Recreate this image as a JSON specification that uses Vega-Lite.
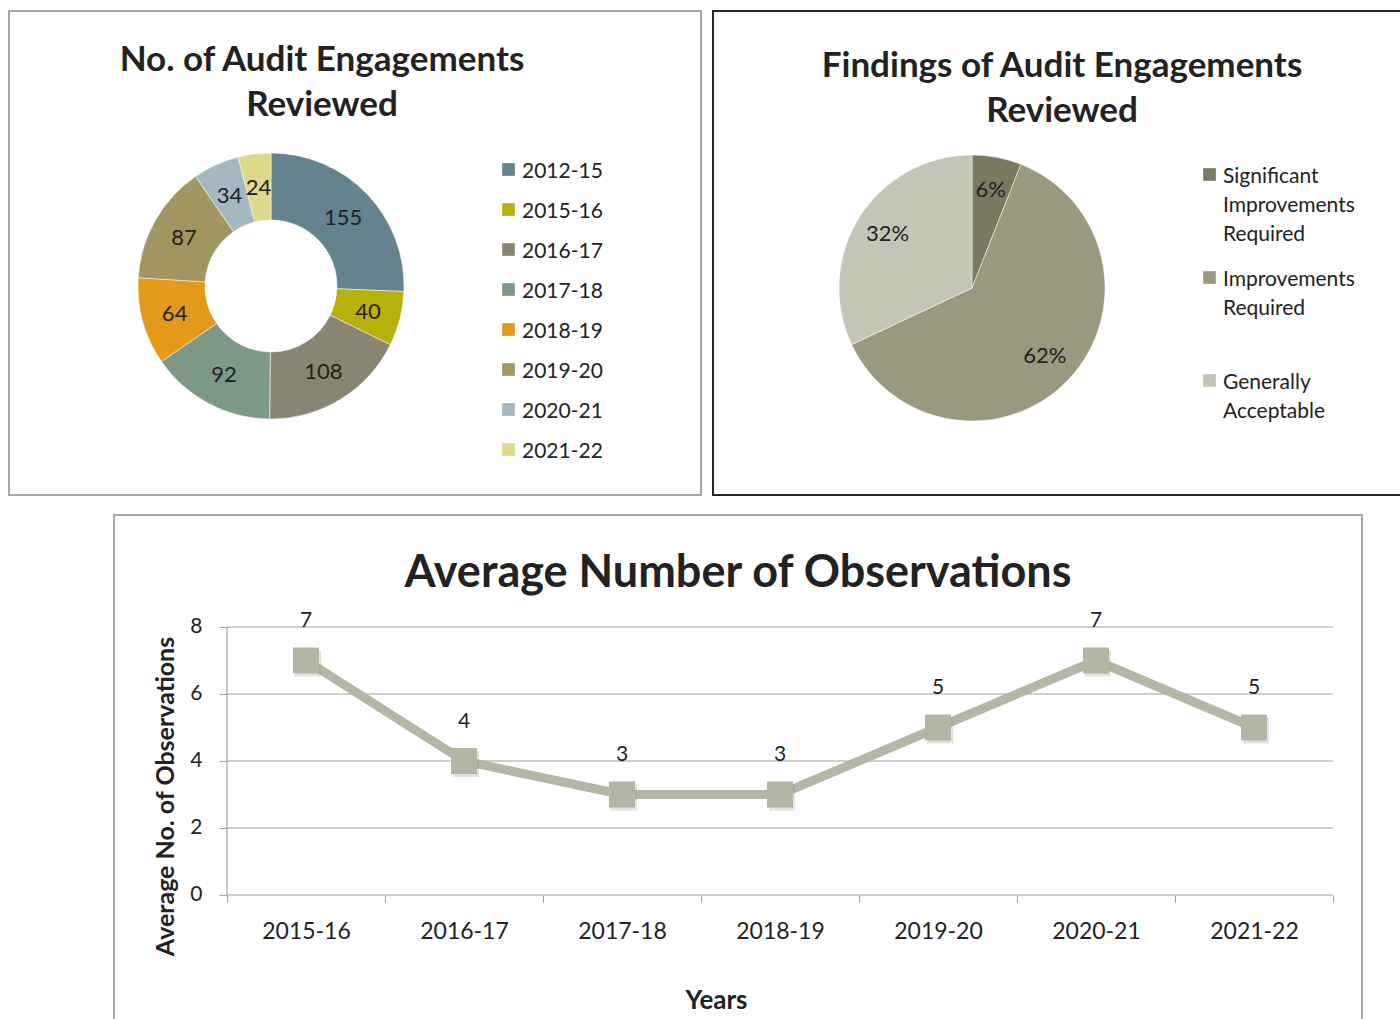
{
  "$schema": "https://vega.github.io/schema/vega-lite/v6.json",
  "padding": {"left": 8, "top": 10, "right": 0, "bottom": 0},
  "background": "white",
  "config": {
    "font": "Lato",
    "view": {"stroke": null},
    "legend": {"titleFontSize": 0},
    "style": {"guide-label": {"lineHeight": 29, "dy": -9}}
  },
  "datasets": {
    "engagements": [
      {"period": "2012-15", "count": 155, "rank": 1},
      {"period": "2015-16", "count": 40, "rank": 2},
      {"period": "2016-17", "count": 108, "rank": 3},
      {"period": "2017-18", "count": 92, "rank": 4},
      {"period": "2018-19", "count": 64, "rank": 5},
      {"period": "2019-20", "count": 87, "rank": 6},
      {"period": "2020-21", "count": 34, "rank": 7},
      {"period": "2021-22", "count": 24, "rank": 8}
    ],
    "findings": [
      {"finding": "Significant Improvements Required", "share": 0.06, "rank": 1},
      {"finding": "Improvements Required", "share": 0.62, "rank": 2},
      {"finding": "Generally Acceptable", "share": 0.32, "rank": 3}
    ],
    "observations": [
      {"year": "2015-16", "avg": 7},
      {"year": "2016-17", "avg": 4},
      {"year": "2017-18", "avg": 3},
      {"year": "2018-19", "avg": 3},
      {"year": "2019-20", "avg": 5},
      {"year": "2020-21", "avg": 7},
      {"year": "2021-22", "avg": 5}
    ],
    "grid": [{"v": 0}, {"v": 2}, {"v": 4}, {"v": 6}, {"v": 8}]
  },
  "center": true,
  "spacing": 18,
  "resolve": {"scale": {"color": "independent", "theta": "independent", "x": "independent", "y": "independent"}, "legend": {"color": "independent"}},
  "vconcat": [
    {
      "spacing": 10,
      "resolve": {"scale": {"color": "independent", "theta": "independent"}, "legend": {"color": "independent"}},
      "hconcat": [
        {
          "width": 692,
          "height": 484,
          "view": {"stroke": "#A6A6A6", "strokeWidth": 2},
          "title": {"text": ["No. of Audit Engagements", "Reviewed"], "frame": "group", "anchor": "middle", "dx": -33, "offset": -112, "baseline": "top", "fontSize": 35, "fontWeight": "bold", "lineHeight": 45, "color": "#222222", "font": "Lato"},
          "data": {"name": "engagements"},
          "encoding": {
            "theta": {"field": "count", "type": "quantitative", "stack": true},
            "order": {"field": "rank", "type": "quantitative"},
            "color": {
              "field": "period", "type": "nominal",
              "scale": {"domain": ["2012-15", "2015-16", "2016-17", "2017-18", "2018-19", "2019-20", "2020-21", "2021-22"],
                        "range": ["#64838F", "#B8B00C", "#888672", "#7D9885", "#E39A1A", "#A19660", "#A3B8C0", "#DED88A"]},
              "legend": {"orient": "none", "legendX": 489, "legendY": 148, "title": null, "symbolType": "square", "symbolSize": 160, "symbolStrokeWidth": 0, "labelFontSize": 21, "labelColor": "#222222", "labelFont": "Lato", "labelBaseline": "top", "rowPadding": 17, "labelOffset": 3}
            }
          },
          "layer": [
            {"mark": {"type": "arc", "x": 262, "y": 275, "outerRadius": 133, "innerRadius": 66, "stroke": "white", "strokeWidth": 0.5}},
            {"mark": {"type": "text", "x": 262, "y": 276, "radius": 100, "fontSize": 22, "font": "Lato"},
             "encoding": {"text": {"field": "count", "type": "quantitative"}, "color": {"value": "#222222"}}}
          ]
        },
        {
          "width": 754,
          "height": 484,
          "view": {"stroke": "#262626", "strokeWidth": 2},
          "title": {"text": ["Findings of Audit Engagements", "Reviewed"], "frame": "group", "anchor": "middle", "dx": -28, "offset": -118, "baseline": "top", "fontSize": 35, "fontWeight": "bold", "lineHeight": 45, "color": "#222222", "font": "Lato"},
          "data": {"name": "findings"},
          "encoding": {
            "theta": {"field": "share", "type": "quantitative", "stack": true},
            "order": {"field": "rank", "type": "quantitative"},
            "color": {
              "field": "finding", "type": "nominal", "sort": ["Significant Improvements Required", "Improvements Required", "Generally Acceptable"],
              "scale": {"domain": ["Significant Improvements Required", "Improvements Required", "Generally Acceptable"],
                        "range": ["#7A7A63", "#9A987E", "#C4C4B7"]},
              "legend": {"orient": "none", "legendX": 486, "legendY": 153, "title": null, "symbolType": "square", "symbolSize": 160, "symbolStrokeWidth": 0, "labelFontSize": 21, "labelColor": "#222222", "labelFont": "Lato", "rowPadding": 22, "labelOffset": 3, "labelBaseline": "top", "gridAlign": "all", "labelExpr": "split(datum.label, ' ')"}
            }
          },
          "layer": [
            {"mark": {"type": "arc", "x": 259, "y": 277, "outerRadius": 133, "stroke": "white", "strokeWidth": 0.5}},
            {"mark": {"type": "text", "x": 259, "y": 277, "radius": 100, "fontSize": 22, "font": "Lato"},
             "encoding": {"text": {"field": "share", "type": "quantitative", "format": ".0%"}, "color": {"value": "#222222"}}}
          ]
        }
      ]
    },
    {
      "width": 1248,
      "height": 510,
      "view": {"stroke": "#A6A6A6", "strokeWidth": 2},
      "title": {"text": "Average Number of Observations", "frame": "group", "anchor": "middle", "offset": -81, "baseline": "top", "fontSize": 45, "fontWeight": "bold", "color": "#222222", "font": "Lato"},
      "data": {"name": "observations"},
      "encoding": {
        "x": {
          "field": "year", "type": "ordinal", "bandPosition": 0.5,
          "scale": {"type": "band", "domain": ["2015-16", "2016-17", "2017-18", "2018-19", "2019-20", "2020-21", "2021-22"], "paddingInner": 0, "paddingOuter": 0.4494, "align": 0.7958},
          "axis": {"title": "Years", "offset": -130, "domain": false, "grid": false, "tickBand": "extent", "tickSize": 7, "tickColor": "#A0A0A0", "labelAngle": 0, "labelFontSize": 23, "labelColor": "#222222", "labelPadding": 27, "labelFont": "Lato", "titleFont": "Lato", "titleFontSize": 26, "titleFontWeight": "bold", "titleColor": "#222222", "titleX": 602, "titleY": 105, "titleBaseline": "middle", "titleAlign": "center"}
        },
        "y": {
          "field": "avg", "type": "quantitative",
          "scale": {"domain": [-3.881, 11.343], "nice": false, "zero": false},
          "axis": {"title": "Average No. of Observations", "values": [0, 2, 4, 6, 8], "offset": -113, "domain": false, "grid": false, "tickSize": 8, "tickColor": "#A0A0A0", "labelFontSize": 21, "labelColor": "#222222", "labelPadding": 17, "labelOffset": 9, "labelFont": "Lato", "titleFont": "Lato", "titleFontSize": 25, "titleFontWeight": "bold", "titleColor": "#222222", "titleX": -62, "titleY": 281, "titleAngle": -90, "titleBaseline": "middle", "titleAlign": "center"}
        }
      },
      "layer": [
        {
          "data": {"name": "grid"},
          "mark": {"type": "rule", "color": "#A0A0A0", "strokeWidth": 1.2},
          "encoding": {
            "y": {"field": "v", "type": "quantitative"},
            "x": {"datum": "2015-16", "type": "ordinal", "bandPosition": 0},
            "x2": {"datum": "2021-22", "bandPosition": 1}
          }
        },
        {
          "data": {"name": "grid"},
          "transform": [{"filter": "datum.v == 0"}],
          "mark": {"type": "rule", "color": "#A0A0A0", "strokeWidth": 1.2},
          "encoding": {
            "y": {"field": "v", "type": "quantitative"},
            "y2": {"datum": 8},
            "x": {"datum": "2015-16", "type": "ordinal", "bandPosition": 0}
          }
        },
        {"mark": {"type": "line", "color": "#B5B6A5", "strokeWidth": 9}},
        {"mark": {"type": "square", "filled": true, "size": 676, "color": "#8A8A80", "opacity": 0.25, "xOffset": 2, "yOffset": 3}},
        {"mark": {"type": "square", "filled": true, "size": 676, "color": "#B4B5A3", "opacity": 1}},
        {"mark": {"type": "text", "dy": -39, "fontSize": 21, "font": "Lato", "color": "#222222"},
         "encoding": {"text": {"field": "avg", "type": "quantitative"}}}
      ]
    }
  ]
}
